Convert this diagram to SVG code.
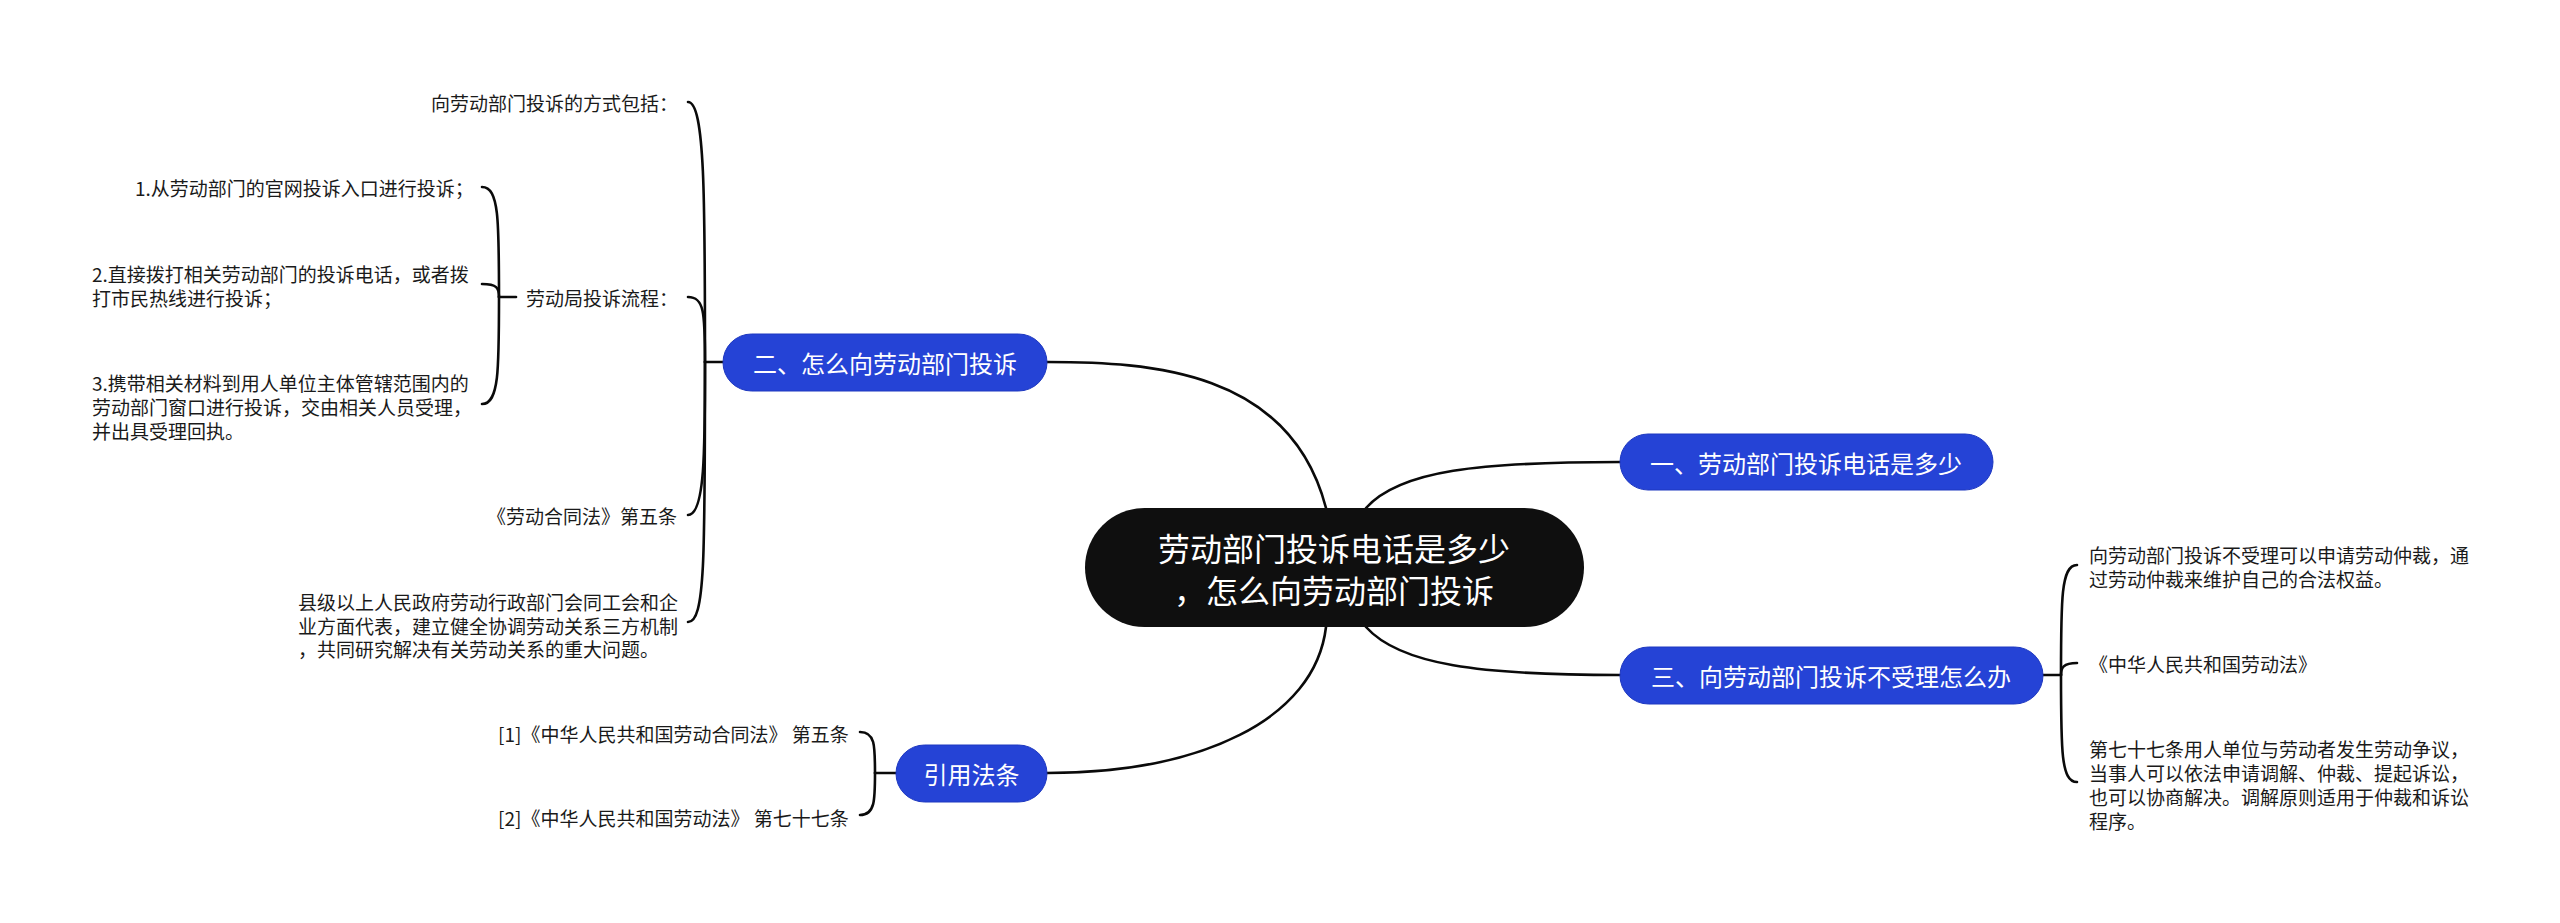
<svg xmlns="http://www.w3.org/2000/svg" width="2560" height="923" viewBox="0 0 2560 923">
<style>
.bg{fill:#ffffff}
.c{fill:none;stroke:#0a0a0a;stroke-width:2.6;stroke-linecap:round}
.root{fill:#0f0f0f}
.blue{fill:#2543d6;stroke:#1e38c0;stroke-width:1}
.rt{font-family:"Noto Sans CJK SC","Noto Sans",sans-serif;font-size:32px;fill:#ffffff;text-anchor:middle;dominant-baseline:central}
.bt{font-family:"Noto Sans CJK SC","Noto Sans",sans-serif;font-size:24px;fill:#ffffff;text-anchor:middle;dominant-baseline:central}
.t{font-family:"Noto Sans CJK SC","Noto Sans",sans-serif;font-size:19px;fill:#1a1a1a;dominant-baseline:central}
</style>
<rect class="bg" x="0" y="0" width="2560" height="923"/>
<g id="connectors">
<path class="c" d="M1326,508 C1290,370 1150,362 1047,362"/>
<path class="c" d="M1366,508 C1400,470 1480,462 1620,462"/>
<path class="c" d="M1366,627 C1400,665 1480,675 1620,675"/>
<path class="c" d="M1326,627 C1315,720 1200,773 1047,773"/>
<path class="c" d="M723,362 L705,362"/>
<path class="c" d="M705,362 C705,200 705,102 688,102"/>
<path class="c" d="M705,362 C705,312 704,297 688,297"/>
<path class="c" d="M705,362 C705,450 705,515 688,515"/>
<path class="c" d="M705,362 C705,560 705,622 688,622"/>
<path class="c" d="M516,297 L499,297"/>
<path class="c" d="M499,297 C499,220 499,187 482,187"/>
<path class="c" d="M499,297 C499,288 497,284 482,284"/>
<path class="c" d="M499,297 C499,370 499,404 482,404"/>
<path class="c" d="M2042,675 L2061,675"/>
<path class="c" d="M2061,675 C2061,600 2061,565 2077,565"/>
<path class="c" d="M2061,675 C2061,668 2063,663 2077,663"/>
<path class="c" d="M2061,675 C2061,750 2061,782 2077,782"/>
<path class="c" d="M896,773 L875,773"/>
<path class="c" d="M875,773 C875,745 875,732 860,732"/>
<path class="c" d="M875,773 C875,800 875,815 860,815"/>
</g>
<g id="root">
<rect class="root" x="1085" y="508" width="499" height="119" rx="59.5"/>
<text class="rt" x="1334" y="547">劳动部门投诉电话是多少</text>
<text class="rt" x="1334" y="589">，怎么向劳动部门投诉</text>
</g>
<g id="n2">
<rect class="blue" x="723" y="334" width="324" height="57" rx="28.5"/>
<text class="bt" x="885" y="362">二、怎么向劳动部门投诉</text>
</g>
<g id="n1">
<rect class="blue" x="1620" y="434" width="373" height="56" rx="28"/>
<text class="bt" x="1806" y="462">一、劳动部门投诉电话是多少</text>
</g>
<g id="n3">
<rect class="blue" x="1620" y="647" width="423" height="57" rx="28.5"/>
<text class="bt" x="1831" y="675">三、向劳动部门投诉不受理怎么办</text>
</g>
<g id="n4">
<rect class="blue" x="896" y="745" width="151" height="57" rx="28.5"/>
<text class="bt" x="971.5" y="773">引用法条</text>
</g>
<g id="n2a"><text class="t" x="431" y="102">向劳动部门投诉的方式包括：</text></g>
<g id="n2b"><text class="t" x="526" y="297">劳动局投诉流程：</text></g>
<g id="n2b1"><text class="t" x="135" y="187">1.从劳动部门的官网投诉入口进行投诉；</text></g>
<g id="n2b2"><text class="t" x="92" y="273">2.直接拨打相关劳动部门的投诉电话，或者拨</text><text class="t" x="92" y="297">打市民热线进行投诉；</text></g>
<g id="n2b3"><text class="t" x="92" y="382">3.携带相关材料到用人单位主体管辖范围内的</text><text class="t" x="92" y="406">劳动部门窗口进行投诉，交由相关人员受理，</text><text class="t" x="92" y="430">并出具受理回执。</text></g>
<g id="n2c"><text class="t" x="487" y="515">《劳动合同法》第五条</text></g>
<g id="n2d"><text class="t" x="298" y="601">县级以上人民政府劳动行政部门会同工会和企</text><text class="t" x="298" y="625">业方面代表，建立健全协调劳动关系三方机制</text><text class="t" x="298" y="648">，共同研究解决有关劳动关系的重大问题。</text></g>
<g id="n3a"><text class="t" x="2089" y="554">向劳动部门投诉不受理可以申请劳动仲裁，通</text><text class="t" x="2089" y="578">过劳动仲裁来维护自己的合法权益。</text></g>
<g id="n3b"><text class="t" x="2089" y="663">《中华人民共和国劳动法》</text></g>
<g id="n3c"><text class="t" x="2089" y="748">第七十七条用人单位与劳动者发生劳动争议，</text><text class="t" x="2089" y="772">当事人可以依法申请调解、仲裁、提起诉讼，</text><text class="t" x="2089" y="796">也可以协商解决。调解原则适用于仲裁和诉讼</text><text class="t" x="2089" y="820">程序。</text></g>
<g id="n4a"><text class="t" x="498" y="733">[1]《中华人民共和国劳动合同法》 第五条</text></g>
<g id="n4b"><text class="t" x="498" y="817">[2]《中华人民共和国劳动法》 第七十七条</text></g>
</svg>
